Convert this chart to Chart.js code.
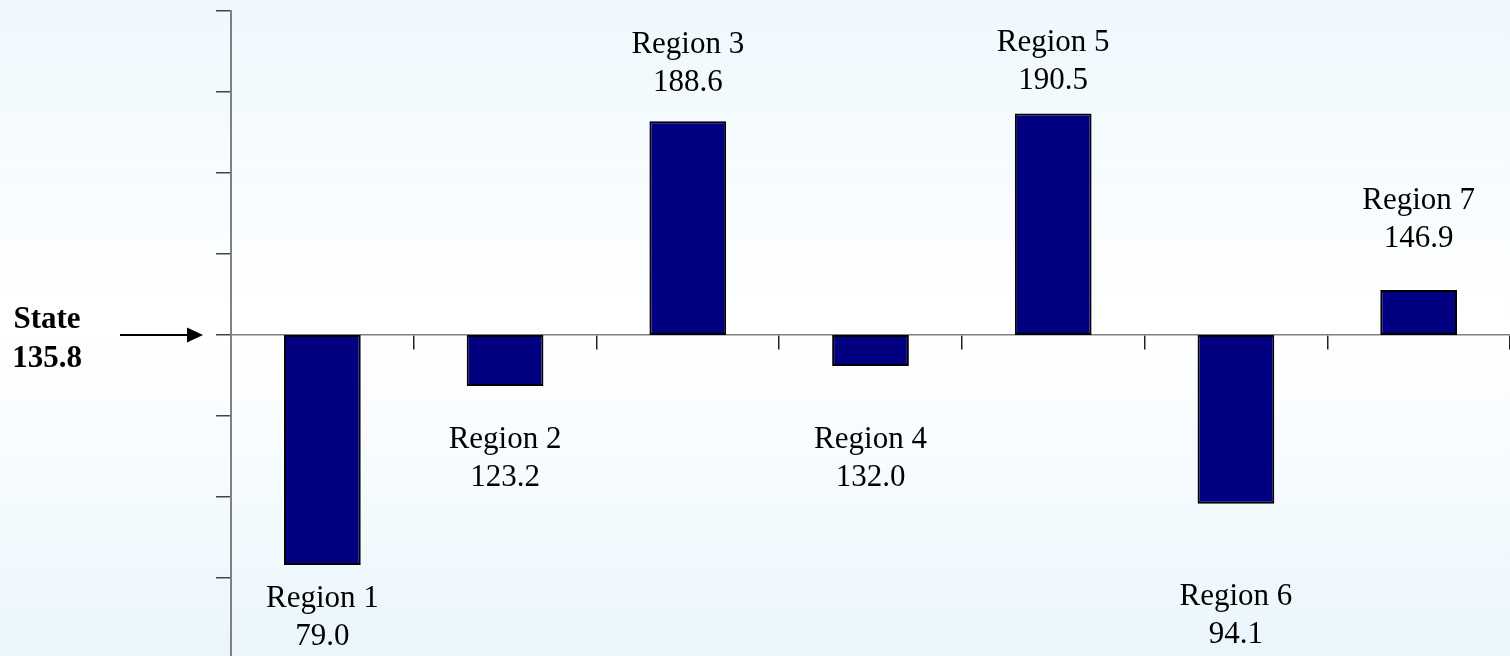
<!DOCTYPE html>
<html>
<head>
<meta charset="utf-8">
<script src="https://cdn.jsdelivr.net/npm/chart.js@4/dist/chart.umd.min.js"></script>
<style>
  html, body { margin: 0; padding: 0; background: #ffffff; }
  #wrap { position: relative; width: 1510px; height: 656px; }
</style>
</head>
<body>
<div id="wrap"><canvas id="c"></canvas></div>
<script>
// ---- data ----
const categories = ["Region 1", "Region 2", "Region 3", "Region 4", "Region 5", "Region 6", "Region 7"];
// bar ends as drawn in the picture
const barValues = [79.0, 123.2, 188.6, 128.1, 190.5, 94.1, 146.9];
// value labels as printed in the picture
const valueLabels = ["79.0", "123.2", "188.6", "132.0", "190.5", "94.1", "146.9"];
const stateValue = 135.8;
const stateLabel = ["State", "135.8"];
const yTickValues = [75.8, 95.8, 115.8, 135.8, 155.8, 175.8, 195.8, 215.8];

// label placement: first-line baseline offset (px) from bar end
const labelOffsets = [42, 62, -68, 82, -62, 101, -81];
const lineGap = 38;

const bgPlugin = {
  id: 'bg',
  beforeDraw(chart) {
    const ctx = chart.ctx;
    const g = ctx.createLinearGradient(0, 0, 0, chart.height);
    g.addColorStop(0, '#eef8fd');
    g.addColorStop(0.5, '#ffffff');
    g.addColorStop(1, '#eaf6fc');
    ctx.save();
    ctx.fillStyle = g;
    ctx.fillRect(0, 0, chart.width, chart.height);
    ctx.restore();
  }
};

const labelPlugin = {
  id: 'barLabels',
  afterDatasetsDraw(chart) {
    const ctx = chart.ctx;
    const meta = chart.getDatasetMeta(0);
    const ys = chart.scales.y;
    ctx.save();
    ctx.font = '31px "Liberation Serif", "Times New Roman", serif';
    ctx.fillStyle = '#000000';
    ctx.textAlign = 'center';
    ctx.textBaseline = 'alphabetic';
    meta.data.forEach((el, i) => {
      const endPx = ys.getPixelForValue(barValues[i]);
      const y1 = endPx + labelOffsets[i];
      ctx.fillText(categories[i], el.x, y1);
      ctx.fillText(valueLabels[i], el.x, y1 + lineGap);
    });
    // State label + arrow
    const by = ys.getPixelForValue(stateValue);
    ctx.font = 'bold 31px "Liberation Serif", "Times New Roman", serif';
    ctx.fillText(stateLabel[0], 47, by - 7);
    ctx.fillText(stateLabel[1], 47, by + 32);
    ctx.strokeStyle = '#000000';
    ctx.lineWidth = 2;
    ctx.beginPath();
    ctx.moveTo(120, by);
    ctx.lineTo(190, by);
    ctx.stroke();
    ctx.beginPath();
    ctx.moveTo(203, by);
    ctx.lineTo(187, by - 7.5);
    ctx.lineTo(187, by + 7.5);
    ctx.closePath();
    ctx.fill();
    ctx.restore();
  }
};

new Chart(document.getElementById('c'), {
  type: 'bar',
  data: {
    labels: categories,
    datasets: [{
      data: barValues.map(v => [stateValue, v]),
      backgroundColor: '#000080',
      borderColor: '#000000',
      borderWidth: 2,
      borderSkipped: false,
      barPercentage: 0.42,
      categoryPercentage: 1.0
    }]
  },
  options: {
    responsive: true,
    maintainAspectRatio: false,
    animation: false,
    layout: { padding: { top: 11, right: 0, bottom: 0, left: 0 } },
    plugins: { legend: { display: false }, tooltip: { enabled: false } },
    scales: {
      x: {
        type: 'category',
        position: { y: stateValue },
        grid: { offset: true, drawOnChartArea: false, drawTicks: true, tickLength: 14, color: '#222222', lineWidth: 1.5 },
        border: { display: true, color: '#808080', width: 1.5 },
        ticks: { display: false }
      },
      y: {
        type: 'linear',
        min: 56.5,
        max: 215.8,
        afterBuildTicks(scale) { scale.ticks = yTickValues.map(v => ({ value: v })); },
        afterFit(scale) { scale.width = 231; },
        grid: { drawOnChartArea: false, drawTicks: true, tickLength: 15, color: '#444444', lineWidth: 1.5 },
        border: { display: true, color: '#808080', width: 2 },
        ticks: { display: false }
      }
    }
  },
  plugins: [bgPlugin, labelPlugin]
});
</script>
</body>
</html>
